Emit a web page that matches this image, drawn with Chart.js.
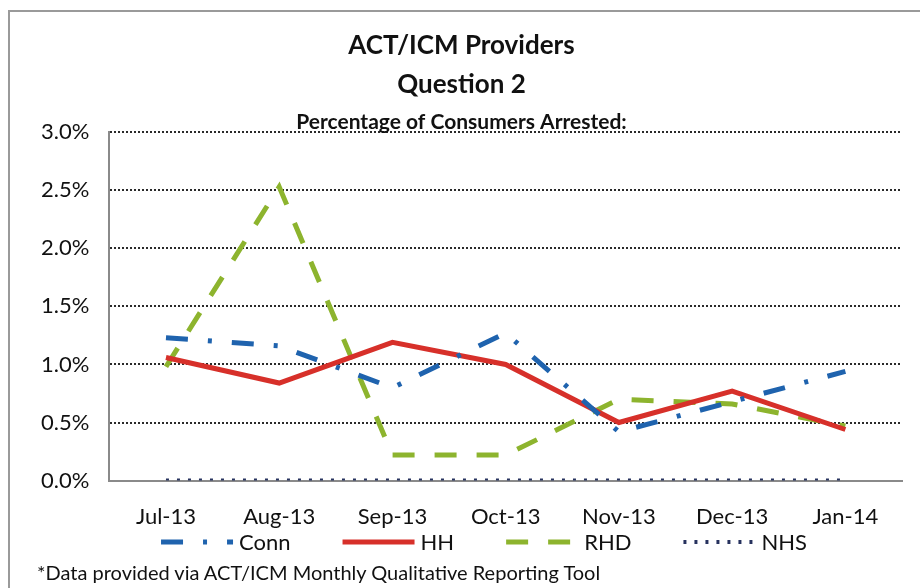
<!DOCTYPE html>
<html>
<head>
<meta charset="utf-8">
<title>ACT/ICM Providers - Question 2</title>
<script src="https://cdn.jsdelivr.net/npm/chart.js@4.4.1/dist/chart.umd.min.js"></script>
<style>
    html, body { margin: 0; padding: 0; background: #fff; }
    #wrap { position: relative; width: 920px; height: 588px; overflow: hidden; }
    #frame {
        position: absolute; left: 8px; top: 10px; width: 940px; height: 600px;
        border-left: 2px solid #9a9a9a; border-top: 2px solid #9a9a9a;
    }
    #chart { position: absolute; left: 0; top: 0; }
    #note {
        position: absolute; left: 37px; top: 560px;
        font: 20px Lato, sans-serif; color: #111; white-space: nowrap;
    }
</style>
</head>
<body>
<div id="wrap">
    <div id="frame"></div>
    <canvas id="chart" width="920" height="588"></canvas>
    <div id="note">*Data provided via ACT/ICM Monthly Qualitative Reporting Tool</div>
</div>
<script>
// --- data ---
const months = ['Jul-13', 'Aug-13', 'Sep-13', 'Oct-13', 'Nov-13', 'Dec-13', 'Jan-14'];
const conn = [1.23, 1.16, 0.80, 1.27, 0.42, 0.68, 0.94];
const hh   = [1.06, 0.84, 1.19, 1.00, 0.50, 0.77, 0.44];
const rhd  = [0.98, 2.53, 0.22, 0.22, 0.70, 0.66, 0.47];
const nhs  = [0, 0, 0, 0, 0, 0, 0];
const yTicks = [0, 0.5, 1.0, 1.5, 2.0, 2.5, 3.0];

const FONT = 'Lato';

function series(label, data, color, dash, width) {
    return {
        label: label,
        data: data,
        borderColor: color,
        backgroundColor: color,
        borderWidth: width,
        borderDash: dash,
        pointRadius: 0,
        tension: 0,
        fill: false
    };
}

/**
 * Legend row drawn from the datasets themselves, so each sample keeps
 * its dash pattern (the built-in point-style legend drops it)
 */
const lineLegend = {
    id: 'lineLegend',
    afterDraw(chart, args, opts) {
        const c = chart.ctx;
        c.save();
        c.font = '22px ' + FONT;
        c.textBaseline = 'middle';
        const items = chart.data.datasets.map(ds => ({
            ds: ds,
            w: opts.sample + opts.textGap + c.measureText(ds.label).width
        }));
        const total = items.reduce((s, it) => s + it.w, 0) + opts.itemGap * (items.length - 1);
        let x = opts.centerX - total / 2;
        items.forEach(({ ds, w }) => {
            c.strokeStyle = ds.borderColor;
            c.lineWidth = ds.borderWidth;
            c.setLineDash(ds.borderDash);
            c.beginPath();
            c.moveTo(x, opts.y);
            c.lineTo(x + opts.sample, opts.y);
            c.stroke();
            c.fillStyle = '#111';
            c.fillText(ds.label, x + opts.sample + opts.textGap, opts.y + 1);
            x += w + opts.itemGap;
        });
        c.restore();
    }
};

const ctx = document.getElementById('chart').getContext('2d');

new Chart(ctx, {
    type: 'line',
    data: {
        labels: months,
        datasets: [
            series('Conn', conn, '#1f63ae', [22, 20, 4, 20], 5),
            series('HH', hh, '#d7302a', [], 5),
            series('RHD', rhd, '#8db42e', [22, 20], 5),
            series('NHS', nhs, '#27325e', [3, 8], 4)
        ]
    },
    options: {
        responsive: false,
        animation: false,
        layout: {
            padding: { left: 21, right: 18, top: 6, bottom: 35 }
        },
        plugins: {
            title: {
                display: true,
                text: ['ACT/ICM Providers', 'Question 2'],
                color: '#111',
                font: { family: FONT, size: 26, weight: 'bold', lineHeight: 1.5 },
                padding: { top: 20, bottom: 0 }
            },
            subtitle: {
                display: true,
                text: 'Percentage of Consumers Arrested:',
                color: '#111',
                font: { family: FONT, size: 21, weight: 'bold', lineHeight: 1.2 },
                padding: { top: 6, bottom: -3 }
            },
            legend: { display: false },
            lineLegend: { y: 542, centerX: 484, sample: 72, textGap: 6, itemGap: 52 },
            tooltip: { enabled: false }
        },
        scales: {
            x: {
                offset: true,
                grid: { display: false, drawTicks: false },
                border: { display: true, color: '#8a8a8a', width: 2 },
                ticks: {
                    padding: 23,
                    color: '#111',
                    font: { family: FONT, size: 22 }
                }
            },
            y: {
                min: 0,
                max: 3,
                afterBuildTicks: axis => {
                    axis.ticks = yTicks.map(v => ({ value: v }));
                },
                grid: {
                    color: ctx => ctx.tick.value === 0 ? 'rgba(0,0,0,0)' : '#2a2a2a',
                    lineWidth: 2,
                    drawTicks: false
                },
                border: { display: true, color: '#8a8a8a', width: 2, dash: [2, 2] },
                ticks: {
                    padding: 20,
                    color: '#111',
                    font: { family: FONT, size: 22 },
                    callback: v => v.toFixed(1) + '%'
                }
            }
        }
    },
    plugins: [lineLegend]
});
</script>
</body>
</html>
